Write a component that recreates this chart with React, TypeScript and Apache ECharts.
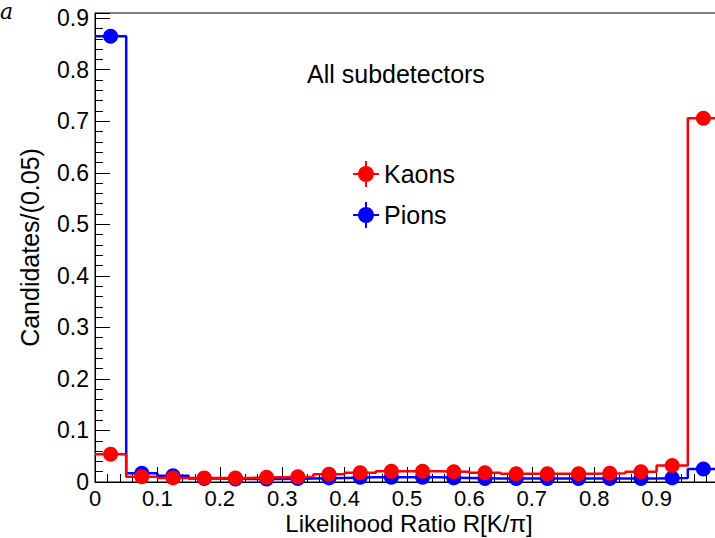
import React, { useEffect, useRef } from "react";
import * as echarts from "echarts";

const BIN_WIDTH = 0.05;
const X_TICKS = ["0", "0.1", "0.2", "0.3", "0.4", "0.5", "0.6", "0.7", "0.8", "0.9", "1"];
const Y_TICKS = ["0", "0.1", "0.2", "0.3", "0.4", "0.5", "0.6", "0.7", "0.8", "0.9"];
const kaons = [0.054, 0.01, 0.008, 0.008, 0.008, 0.009, 0.01, 0.015, 0.018, 0.021, 0.021, 0.02, 0.018, 0.016, 0.016, 0.016, 0.017, 0.02, 0.032, 0.706];
const pions = [0.865, 0.017, 0.012, 0.007, 0.006, 0.006, 0.007, 0.008, 0.009, 0.009, 0.009, 0.008, 0.007, 0.007, 0.007, 0.007, 0.007, 0.007, 0.008, 0.025];
const TITLE_X = "Likelihood Ratio R[K/\u03c0]";
const TITLE_Y = "Candidates/(0.05)";
const LABEL_TEXT = "All subdetectors";

const FONT = "Liberation Sans";
const RED = "#ff0000";
const BLUE = "#0000ff";

function stepPoints(vals: number[]) {
  const pts: number[][] = [];
  vals.forEach((v, i) => {
    pts.push([i * BIN_WIDTH, v]);
    pts.push([(i + 1) * BIN_WIDTH, v]);
  });
  return pts;
}
function centerPoints(vals: number[]) {
  return vals.map((v, i) => [(i + 0.5) * BIN_WIDTH, v]);
}

const ICON =
  "path://M0,12L26,12L26,14L0,14Z M12,0L14,0L14,26L12,26Z M13,5A8,8,0,1,1,12.99,5Z";

export default function App() {
  const ref = useRef<HTMLDivElement>(null);
  useEffect(() => {
    if (!ref.current) return;
    const chart = echarts.init(ref.current, null, { renderer: "svg" });
    const axisCommon = {
      axisLine: { show: true, lineStyle: { color: "#000", width: 1 } },
      axisTick: { show: true, inside: true, length: 15, lineStyle: { color: "#000" } },
      minorTick: { show: true, splitNumber: 5, length: 8, lineStyle: { color: "#000" } },
      splitLine: { show: false },
      minorSplitLine: { show: false },
    };
    chart.setOption({
      animation: false,
      backgroundColor: "#fff",
      textStyle: { fontFamily: FONT },
      grid: {
        left: 95,
        top: 13,
        width: 624,
        height: 469,
        show: true,
        borderColor: "#000",
        borderWidth: 1,
        containLabel: false,
        outerBoundsMode: "none",
      },
      xAxis: {
        type: "value",
        min: 0,
        max: 1,
        interval: 0.1,
        ...axisCommon,
        axisLabel: {
          color: "#000",
          fontSize: 22,
          fontFamily: FONT,
          margin: 5,
          showMaxLabel: false,
          formatter: (v: number) => X_TICKS[Math.round(v * 10)] ?? "",
        },
      },
      yAxis: {
        type: "value",
        min: 0,
        max: 0.91,
        interval: 0.1,
        ...axisCommon,
        axisLabel: {
          color: "#000",
          fontSize: 23,
          fontFamily: FONT,
          margin: 6,
          showMaxLabel: false,
          formatter: (v: number) => (v > 0.905 ? "" : Y_TICKS[Math.round(v * 10)] ?? ""),
        },
        name: TITLE_Y,
        nameLocation: "middle",
        nameGap: 53,
        nameTextStyle: { color: "#000", fontSize: 25, fontFamily: FONT },
      },
      legend: {
        orient: "vertical",
        left: 348,
        top: 156,
        itemWidth: 26,
        itemHeight: 26,
        itemGap: 15,
        icon: ICON,
        textStyle: { color: "#000", fontSize: 25, fontFamily: FONT },
        data: [
          { name: "Kaons", itemStyle: { color: RED } },
          { name: "Pions", itemStyle: { color: BLUE } },
        ],
      },
      graphic: [
        {
          type: "text",
          left: 307,
          top: 61,
          style: { text: LABEL_TEXT, fill: "#000", fontSize: 25, fontFamily: FONT },
        },
        {
          type: "text",
          x: 409,
          y: 511,
          style: {
            text: TITLE_X,
            fill: "#000",
            fontSize: 24,
            fontFamily: FONT,
            align: "center",
            verticalAlign: "top",
          },
        },
        {
          type: "text",
          left: 0,
          top: 0,
          style: { text: "a", fill: "#000", fontSize: 22, fontStyle: "italic", fontFamily: "DejaVu Serif" },
        },
      ],
      series: [
        {
          name: "Pions",
          type: "line",
          data: stepPoints(pions),
          showSymbol: false,
          lineStyle: { color: BLUE, width: 2.5 },
          itemStyle: { color: BLUE },
          z: 2,
        },
        {
          name: "Pions",
          type: "scatter",
          data: centerPoints(pions),
          symbol: "circle",
          symbolSize: 15,
          itemStyle: { color: BLUE, opacity: 1 },
          z: 3,
        },
        {
          name: "Kaons",
          type: "line",
          data: stepPoints(kaons),
          showSymbol: false,
          lineStyle: { color: RED, width: 2.5 },
          itemStyle: { color: RED },
          z: 4,
        },
        {
          name: "Kaons",
          type: "scatter",
          data: centerPoints(kaons),
          symbol: "circle",
          symbolSize: 15,
          itemStyle: { color: RED, opacity: 1 },
          z: 5,
        },
      ],
    });
    return () => chart.dispose();
  }, []);
  return <div ref={ref} style={{ position: "fixed", left: 0, top: 0, width: 715, height: 538 }} />;
}
